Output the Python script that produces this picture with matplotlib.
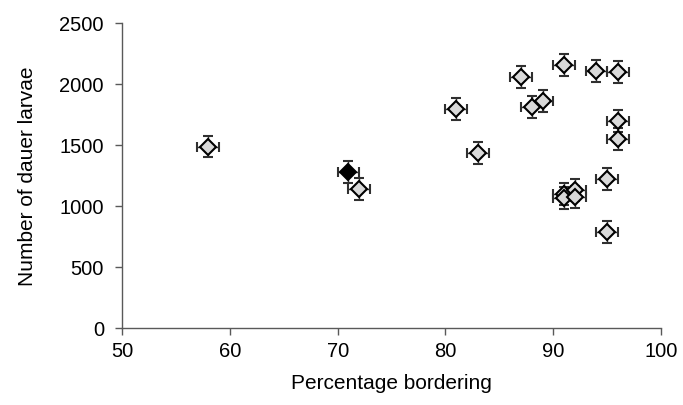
import matplotlib
matplotlib.use("Agg")
import matplotlib.pyplot as plt

plt.rcParams['font.family'] = ['Liberation Sans', 'DejaVu Sans']

# percentage bordering vs number of dauer larvae
pct_grey = [58, 72, 81, 83, 87, 88, 89, 91, 94, 96, 96, 96, 95, 95, 91, 91, 92, 92]
larvae_grey = [1490, 1140, 1800, 1440, 2060, 1810, 1860, 2160, 2110, 2100,
               1700, 1550, 1220, 790, 1100, 1070, 1130, 1080]
pct_black = [71]
larvae_black = [1280]
x_err = 1.0
y_err = 90

x_ticks = [50, 60, 70, 80, 90, 100]
y_ticks = [0, 500, 1000, 1500, 2000, 2500]

fig = plt.figure(figsize=(6.83, 4.05), dpi=100)
ax = fig.add_axes([0.1786, 0.1894, 0.7894, 0.7531])

ax.errorbar(pct_grey, larvae_grey, xerr=x_err, yerr=y_err, fmt='D',
            ms=8, mfc='#d9d9d9', mec='black', mew=1.5,
            ecolor='#303030', elinewidth=1, capsize=3.5, capthick=1, zorder=3)
ax.errorbar(pct_black, larvae_black, xerr=x_err, yerr=y_err, fmt='D',
            ms=8, mfc='black', mec='black', mew=1.5,
            ecolor='#303030', elinewidth=1, capsize=3.5, capthick=1, zorder=3)

ax.set_xlim(50, 100)
ax.set_ylim(0, 2500)
ax.set_xticks(x_ticks)
ax.set_yticks(y_ticks)
ax.tick_params(direction='out', length=5, width=1, color='#595959',
               labelsize=14.5, pad=5)
ax.tick_params(axis='y', pad=8)

for s in ['top', 'right']:
    ax.spines[s].set_visible(False)
for s in ['left', 'bottom']:
    ax.spines[s].set_color('#595959')
    ax.spines[s].set_linewidth(1)

ax.set_xlabel('Percentage bordering', fontsize=15, labelpad=9)
ax.set_ylabel('Number of dauer larvae', fontsize=15, labelpad=16)

fig.savefig('out.png', dpi=100)
